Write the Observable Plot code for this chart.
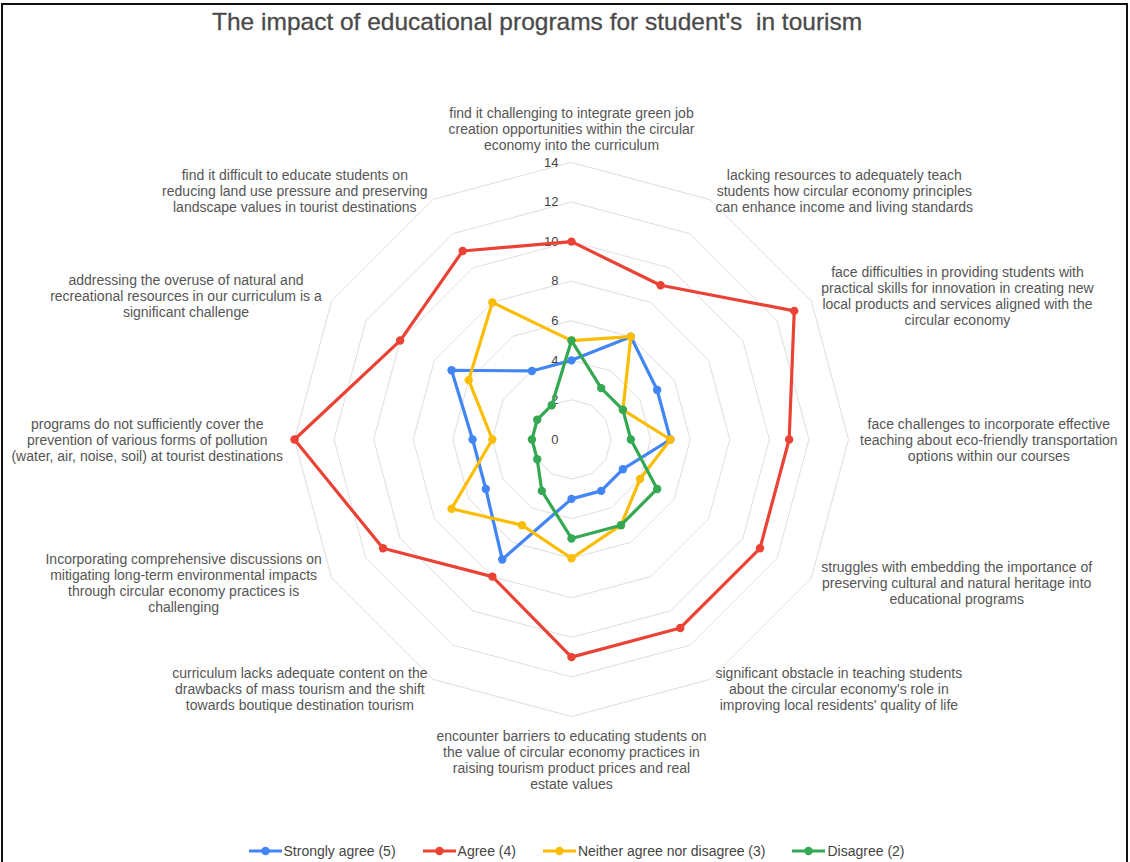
<!DOCTYPE html>
<html><head><meta charset="utf-8">
<script src="https://cdn.jsdelivr.net/npm/d3@7"></script>
<script src="https://cdn.jsdelivr.net/npm/@observablehq/plot@0.6"></script>
<style>
body{margin:0;background:#fff;font-family:Arial,"Liberation Sans",sans-serif;}
#frame{position:absolute;left:1px;top:3px;width:1127px;height:900px;box-sizing:border-box;border:2px solid #111;overflow:hidden;background:#fff;}
#title{height:45px;padding-top:5px;padding-left:209px;font-size:24.5px;line-height:24px;color:#4a4a4a;white-space:pre;-webkit-text-stroke:0.3px #4a4a4a;}
#chart svg{display:block;}
#legend{height:32px;display:flex;justify-content:center;align-items:center;padding-left:23px;font-size:14px;color:#444;}
.item{display:flex;align-items:center;margin:0 13px;}
.item svg{margin-right:1px;}
</style></head><body>
<div id="frame">
<div id="title">The impact of educational programs for student's  in tourism</div>
<div id="chart"></div>
<div id="legend"></div>
</div>
<script>
const categories = [
  "find it challenging to integrate green job\ncreation opportunities within the circular\neconomy into the curriculum",
  "lacking resources to adequately teach\nstudents how circular economy principles\ncan enhance income and living standards",
  "face difficulties in providing students with\npractical skills for innovation in creating new\nlocal products and services aligned with the\ncircular economy",
  "face challenges to incorporate effective\nteaching about eco-friendly transportation\noptions within our courses",
  "struggles with embedding the importance of\npreserving cultural and natural heritage into\neducational programs",
  "significant obstacle in teaching students\nabout the circular economy's role in\nimproving local residents' quality of life",
  "encounter barriers to educating students on\nthe value of circular economy practices in\nraising tourism product prices and real\nestate values",
  "curriculum lacks adequate content on the\ndrawbacks of mass tourism and the shift\ntowards boutique destination tourism",
  "Incorporating comprehensive discussions on\nmitigating long-term environmental impacts\nthrough circular economy practices is\nchallenging",
  "programs do not sufficiently cover the\nprevention of various forms of pollution\n(water, air, noise, soil) at tourist destinations",
  "addressing the overuse of natural and\nrecreational resources in our curriculum is a\nsignificant challenge",
  "find it difficult to educate students on\nreducing land use pressure and preserving\nlandscape values in tourist destinations"
];
const seriesNames = ["Strongly agree (5)", "Agree (4)", "Neither agree nor disagree (3)", "Disagree (2)"];
const stronglyAgree = [4, 6, 5, 5, 3, 3, 3, 7, 5, 5, 7, 4];
const agree         = [10, 9, 13, 11, 11, 11, 11, 8, 11, 14, 10, 11];
const neither       = [5, 6, 3, 5, 4, 5, 6, 5, 7, 4, 6, 8];
const disagree      = [5, 3, 3, 3, 5, 5, 5, 3, 2, 2, 2, 2];
const ticks = [0, 2, 4, 6, 8, 10, 12, 14];

const seriesValues = [stronglyAgree, agree, neither, disagree];
const colors = ["#4285F4", "#EA4335", "#FBBC04", "#34A853"];

const W = 1123, H = 780, CX = 568, CY = 384;
const maxV = 14, R = 277, U = R / maxV;
const n = categories.length;
const ang = i => i * 2 * Math.PI / n;
const px = (v, i) => v * Math.sin(ang(i));
const py = (v, i) => v * Math.cos(ang(i));

const points = [];
seriesValues.forEach((vals, s) => vals.forEach((v, i) => points.push({series: seriesNames[s], i, v, x: px(v, i), y: py(v, i)})));

const rings = [];
ticks.filter(t => t > 0).forEach(t => categories.forEach((c, i) => rings.push({t, x: px(t, i), y: py(t, i)})));

const ctx = document.createElement("canvas").getContext("2d");
ctx.font = "14px Arial";
const LH = 16;
const labels = categories.map((c, i) => {
  const a = ang(i), s = Math.sin(a), co = Math.cos(a);
  const lines = c.split("\n");
  const w = Math.max(...lines.map(l => ctx.measureText(l).width));
  let x = maxV * s, y = maxV * co, la = "middle";
  if (Math.abs(s) < 1e-6) {
    if (co > 0) { y += 13 / U; la = "bottom"; } else { y -= 13 / U; la = "top"; }
  } else {
    const pad = 12 * Math.abs(s) - 0.5;
    x += Math.sign(s) * (pad + w / 2) / U;
    y += co * 10.5 / U;
  }
  return {text: c, x, y, la};
});

const marks = [
  Plot.line(rings, {x: "x", y: "y", z: "t", curve: "linear-closed", stroke: "#dedede", strokeWidth: 1}),
  Plot.text(ticks, {x: () => 0, y: d => d, text: d => String(d), textAnchor: "end", dx: -13, fill: "#444", fontSize: 13})
];
["top", "middle", "bottom"].forEach(la => {
  marks.push(Plot.text(labels.filter(d => d.la === la), {x: "x", y: "y", text: "text", textAnchor: "middle", lineAnchor: la, lineHeight: LH / 14, fontSize: 14, fill: "#555"}));
});
seriesNames.forEach((name, s) => {
  const data = points.filter(d => d.series === name);
  marks.push(Plot.line(data, {x: "x", y: "y", curve: "linear-closed", stroke: colors[s], strokeWidth: 3.2, strokeLinejoin: "round"}));
  marks.push(Plot.dot(data, {x: "x", y: "y", r: 4.2, fill: colors[s], stroke: "none"}));
});

const chart = Plot.plot({
  width: W, height: H, margin: 0,
  style: {fontFamily: "Arial, 'Liberation Sans', sans-serif", background: "white", overflow: "visible"},
  x: {type: "linear", domain: [-CX / U, (W - CX) / U], range: [0, W], axis: null},
  y: {type: "linear", domain: [-(H - CY) / U, CY / U], range: [H, 0], axis: null},
  marks
});
document.getElementById("chart").appendChild(chart);

const legend = document.getElementById("legend");
seriesNames.forEach((name, s) => {
  const item = document.createElement("div");
  item.className = "item";
  item.innerHTML = `<svg width="35" height="12"><line x1="1" y1="6" x2="34" y2="6" stroke="${colors[s]}" stroke-width="3"/><circle cx="17.5" cy="6" r="4.2" fill="${colors[s]}"/></svg><span>${name}</span>`;
  legend.appendChild(item);
});
</script>
</body></html>
